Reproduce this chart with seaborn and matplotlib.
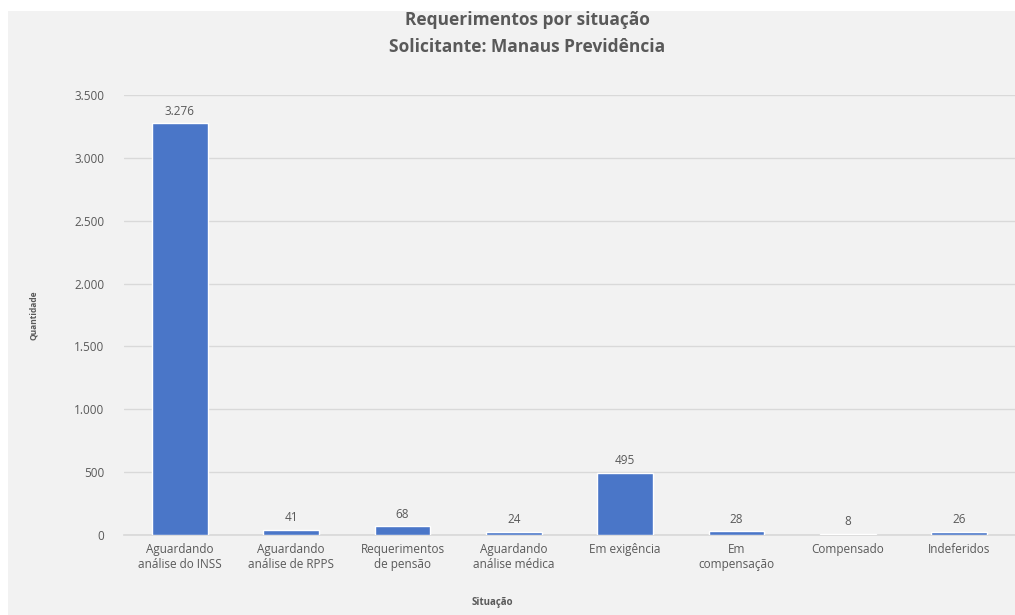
import numpy as np
import pandas as pd

import matplotlib
matplotlib.use('Agg')
import matplotlib.pyplot as plt
import seaborn as sns
from matplotlib.patches import Rectangle
from matplotlib.ticker import FuncFormatter

categorias = [
    'Aguardando\nanálise do INSS',
    'Aguardando\nanálise de RPPS',
    'Requerimentos\nde pensão',
    'Aguardando\nanálise médica',
    'Em exigência',
    'Em\ncompensação',
    'Compensado',
    'Indeferidos',
]
quantidades = [3276, 41, 68, 24, 495, 28, 8, 26]

BAR_COLOR = '#4a76c8'
TEXT_COLOR = '#595959'
BG_COLOR = '#f2f2f2'


def fmt_milhar(v, pos=None):
    return f'{int(v):,}'.replace(',', '.')


sns.set_theme(style='white')
plt.rcParams['font.family'] = ['Open Sans', 'DejaVu Sans']

fig = plt.figure(figsize=(10.15, 6.15), dpi=100)
fig.patch.set_facecolor('white')
fig.patches.append(Rectangle((8 / 1015, 0), 1, 1 - 11 / 615, transform=fig.transFigure,
                             facecolor=BG_COLOR, edgecolor='none', zorder=-10))

ax = fig.add_axes([124 / 1015, 80 / 615, 891 / 1015, 440 / 615])
ax.set_facecolor('none')

df = pd.DataFrame({'Situação': categorias, 'Quantidade': quantidades})
sns.barplot(data=df, x='Situação', y='Quantidade', color=BAR_COLOR, width=0.5,
            saturation=1, ax=ax, zorder=3)

for i, v in enumerate(quantidades):
    ax.text(i, v + 45, fmt_milhar(v), ha='center', va='bottom', fontsize=8.5, color=TEXT_COLOR)

ax.set_ylim(0, 3500)
ax.set_yticks(np.arange(0, 3501, 500))
ax.yaxis.set_major_formatter(FuncFormatter(fmt_milhar))
ax.grid(axis='y', color='#d9d9d9', linewidth=1, zorder=0)
ax.set_axisbelow(True)
for side in ['left', 'right', 'top']:
    ax.spines[side].set_visible(False)
ax.spines['bottom'].set_color('#d9d9d9')
ax.tick_params(axis='y', length=0, pad=14, labelsize=8.5, labelcolor=TEXT_COLOR)
ax.tick_params(axis='x', length=0, pad=6, labelsize=8.5, labelcolor=TEXT_COLOR)

ax.set_xlabel('')
ax.set_ylabel('Quantidade', fontsize=6, fontweight='bold', color=TEXT_COLOR, labelpad=26)
fig.text(492 / 1015, 1 - 603 / 615, 'Situação', ha='center', va='center',
         fontsize=7, fontweight='bold', color=TEXT_COLOR)

fig.text(527 / 1015, 1 - 20 / 615, 'Requerimentos por situação', ha='center', va='center',
         fontsize=12.5, fontweight='bold', color=TEXT_COLOR)
fig.text(527 / 1015, 1 - 47 / 615, 'Solicitante: Manaus Previdência', ha='center', va='center',
         fontsize=12.5, fontweight='bold', color=TEXT_COLOR)

fig.savefig('out.png', dpi=100)
